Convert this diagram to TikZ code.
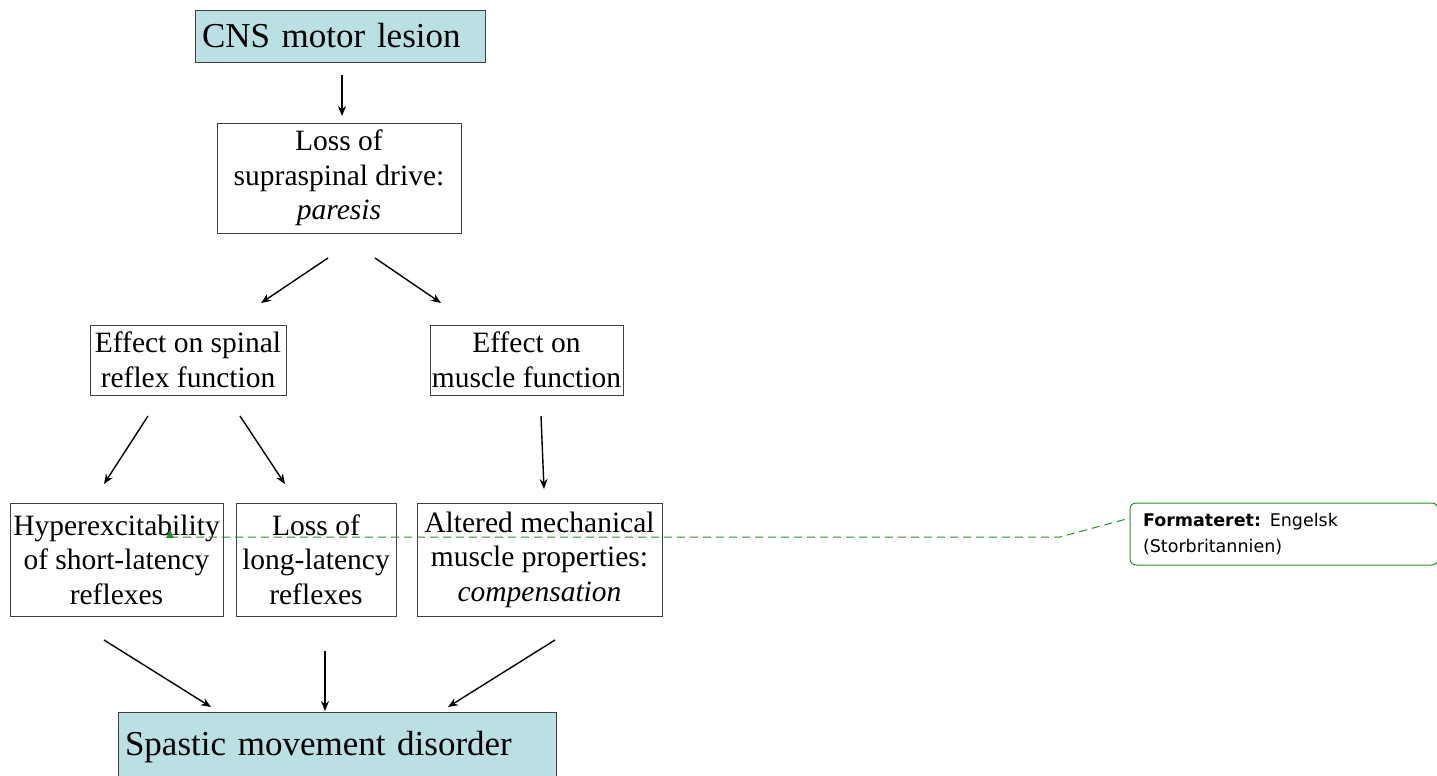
\documentclass[tikz,border=0pt]{standalone}
\usepackage{fontspec}
\setmainfont{Liberation Serif}
\newfontfamily\notefont{DejaVu Sans}
\usetikzlibrary{arrows.meta}
\definecolor{boxblue}{RGB}{186,224,227}
\definecolor{notegreen}{RGB}{40,140,40}
\tikzset{
  plainbox/.style={draw=black!75, line width=0.9pt, align=center, inner sep=0pt, font=\fontsize{29.5}{34.5}\selectfont},
  bluebox/.style={draw=black!75, line width=0.9pt, fill=boxblue, align=left, inner ysep=0pt, font=\fontsize{35}{40}\selectfont},
  arr/.style={line width=1.4pt, -{Stealth[length=10pt,width=8pt]}},
  notebox/.style={draw=notegreen, line width=1pt, rounded corners=6pt, align=left, inner sep=0pt, font=\notefont\fontsize{17.5}{26}\selectfont},
  notelink/.style={draw=notegreen, line width=1pt, dash pattern=on 8pt off 5pt}
}
\begin{document}
\begin{tikzpicture}[x=1pt,y=-1pt]
\useasboundingbox (0,0) rectangle (1437,776);
% boxes
\node[bluebox, minimum width=290, minimum height=52, text width=276, inner xsep=7] (cns) at (340,36) {CNS motor lesion};
\node[plainbox, minimum width=244, minimum height=110] (supra) at (339,178) {Loss of\\supraspinal drive:\\\textit{paresis}};
\node[plainbox, minimum width=196, minimum height=70] (spinal) at (188,360) {Effect on spinal\\reflex function};
\node[plainbox, minimum width=193, minimum height=70] (muscle) at (526.5,360) {Effect on\\muscle function};
\node[plainbox, minimum width=213, minimum height=113] (hyper) at (116.5,559.5) {Hyperexcitability\\of short-latency\\reflexes};
\node[plainbox, minimum width=160, minimum height=113] (longl) at (316,559.5) {Loss of\\long-latency\\reflexes};
\node[plainbox, minimum width=245, minimum height=113] (altered) at (539.5,559.5) {Altered mechanical\\muscle properties:\\\textit{compensation}};
\node[bluebox, minimum width=438, minimum height=70, text width=424, inner xsep=7] (spastic) at (337,747) {Spastic movement disorder};
% arrow end points
\coordinate (a1s) at (342,75);  \coordinate (a1e) at (342,116);
\coordinate (a2s) at (328,258); \coordinate (a2e) at (261,303);
\coordinate (a3s) at (375,258); \coordinate (a3e) at (441,303);
\coordinate (a4s) at (148,416); \coordinate (a4e) at (104,484);
\coordinate (a5s) at (240,416); \coordinate (a5e) at (285,484);
\coordinate (a6s) at (541,416); \coordinate (a6e) at (544,489);
\coordinate (a7s) at (104,640); \coordinate (a7e) at (211,707);
\coordinate (a8s) at (325,651); \coordinate (a8e) at (325,711);
\coordinate (a9s) at (555,640); \coordinate (a9e) at (448,707);
\draw[arr] (a1s) -- (a1e);
\draw[arr] (a2s) -- (a2e);
\draw[arr] (a3s) -- (a3e);
\draw[arr] (a4s) -- (a4e);
\draw[arr] (a5s) -- (a5e);
\draw[arr] (a6s) -- (a6e);
\draw[arr] (a7s) -- (a7e);
\draw[arr] (a8s) -- (a8e);
\draw[arr] (a9s) -- (a9e);
% comment
\node[notebox, minimum width=308, minimum height=62, text width=282, inner xsep=13] (note) at (1284,534) {\textbf{Formateret:} Engelsk\\(Storbritannien)};
\coordinate (mark) at (170,537);
\coordinate (knee) at (1060,537);
\coordinate (noteend) at (1130,518);
\fill[notegreen] (166,538) -- (174,538) -- (170,530) -- cycle;
\draw[notelink] (mark) -- (knee) -- (noteend);
\end{tikzpicture}
\end{document}
